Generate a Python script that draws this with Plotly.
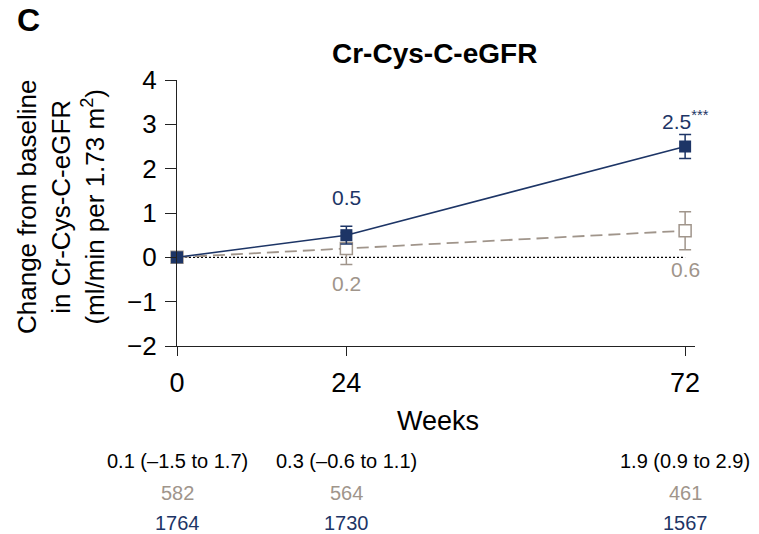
import plotly.graph_objects as go

weeks = [0, 24, 72]
treat_mean = [0.0, 0.5, 2.5]
treat_err = [0.0, 0.2, 0.27]
ctrl_mean = [0.0, 0.2, 0.6]
ctrl_err = [0.0, 0.36, 0.43]
treat_labels = ["", "0.5", "2.5<sup>***</sup>"]
ctrl_labels = ["", "0.2", "0.6"]
diff_text = ["0.1 (\u20131.5 to 1.7)", "0.3 (\u20130.6 to 1.1)", "1.9 (0.9 to 2.9)"]
ctrl_n = ["582", "564", "461"]
treat_n = ["1764", "1730", "1567"]
y_ticks = [-2, -1, 0, 1, 2, 3, 4]
y_tick_text = ["\u22122", "\u22121", "0", "1", "2", "3", "4"]

NAVY = "#1d3566"
GRAY = "#a0958b"
FONT = "Liberation Sans, Arial, sans-serif"

W, H = 759, 534
ML, MR, MT, MB = 177, 64, 80, 188
plot_w = W - ML - MR
plot_h = H - MT - MB


def px_x(px):
    return (px - ML) / plot_w


def px_y(py):
    return (H - MB - py) / plot_h


fig = go.Figure()

# zero reference line
fig.add_trace(go.Scatter(
    x=[weeks[0], weeks[-1]], y=[0, 0], mode="lines",
    line=dict(color="black", width=1.3, dash="2px,2px"),
    hoverinfo="skip", showlegend=False, cliponaxis=False))

# control arm: open squares on a dashed line
fig.add_trace(go.Scatter(
    x=weeks, y=ctrl_mean, mode="lines",
    line=dict(color=GRAY, width=1.8, dash="12px,6px"),
    error_y=dict(type="data", array=ctrl_err, color=GRAY, thickness=1.5, width=6),
    showlegend=False, cliponaxis=False))
fig.add_trace(go.Scatter(
    x=weeks, y=ctrl_mean, mode="markers",
    marker=dict(symbol="square", size=12, color="white",
                line=dict(color=GRAY, width=1.5)),
    showlegend=False, cliponaxis=False, hoverinfo="skip"))

# treatment arm: filled squares on a solid line
fig.add_trace(go.Scatter(
    x=weeks, y=treat_mean, mode="lines+markers",
    line=dict(color=NAVY, width=1.6),
    marker=dict(symbol="square", size=12, color=NAVY),
    error_y=dict(type="data", array=treat_err, color=NAVY, thickness=1.5, width=6),
    showlegend=False, cliponaxis=False))

annotations = []
for x, v, t in zip(weeks, treat_mean, treat_labels):
    if t:
        annotations.append(dict(x=x, y=v, xref="x", yref="y", text=t, showarrow=False,
                                xanchor="center", yanchor="middle",
                                yshift=38 if x == 24 else 27,
                                font=dict(size=21, color=NAVY, family=FONT)))
for x, v, t in zip(weeks, ctrl_mean, ctrl_labels):
    if t:
        annotations.append(dict(x=x, y=v, xref="x", yref="y", text=t, showarrow=False,
                                xanchor="center", yanchor="middle",
                                yshift=-35 if x == 24 else -39,
                                font=dict(size=21, color=GRAY, family=FONT)))

# difference and patient-count rows under the axis
for x, d, c, t in zip(weeks, diff_text, ctrl_n, treat_n):
    for py, txt, col in ((461, d, "black"), (493, c, GRAY), (523, t, NAVY)):
        annotations.append(dict(x=x, y=px_y(py), xref="x", yref="paper", text=txt,
                                xanchor="center", yanchor="middle", showarrow=False,
                                font=dict(size=20, color=col, family=FONT)))

annotations.append(dict(x=px_x(15), y=px_y(20), xref="paper", yref="paper",
                        xanchor="left", yanchor="middle", text="<b>C</b>", showarrow=False,
                        font=dict(size=32, color="black", family=FONT)))
annotations.append(dict(x=px_x(434), y=px_y(53), xref="paper", yref="paper",
                        xanchor="center", yanchor="middle",
                        text="<b>Cr-Cys-C-eGFR</b>", showarrow=False,
                        font=dict(size=28, color="black", family=FONT)))
annotations.append(dict(x=px_x(438), y=px_y(421), xref="paper", yref="paper",
                        xanchor="center", yanchor="middle",
                        text="Weeks", showarrow=False,
                        font=dict(size=27, color="black", family=FONT)))
annotations.append(dict(x=px_x(61), y=px_y(207), xref="paper", yref="paper",
                        xanchor="center", yanchor="middle",
                        text="Change from baseline<br>in Cr-Cys-C-eGFR<br>(ml/min per 1.73 m<sup>2</sup>)",
                        showarrow=False, textangle=-90,
                        font=dict(size=26, color="black", family=FONT)))

fig.update_layout(
    width=W, height=H,
    margin=dict(l=ML, r=MR, t=MT, b=MB),
    paper_bgcolor="white", plot_bgcolor="white",
    font=dict(family=FONT, color="black"),
    annotations=annotations,
    xaxis=dict(range=[0, 73.4], tickvals=weeks, ticktext=[str(w) for w in weeks],
               showgrid=False, zeroline=False, showline=True, linecolor="#222",
               linewidth=1.3, ticks="outside", ticklen=9, tickwidth=1.3, tickcolor="#222",
               tickfont=dict(size=27, family=FONT), ticklabelstandoff=3),
    yaxis=dict(range=[-2, 4], tickvals=y_ticks, ticktext=y_tick_text,
               showgrid=False, zeroline=False, showline=True, linecolor="#222",
               linewidth=1.3, ticks="outside", ticklen=11, tickwidth=1.3, tickcolor="#222",
               tickfont=dict(size=26, family=FONT), ticklabelstandoff=3),
)

fig.write_html("out.html")
